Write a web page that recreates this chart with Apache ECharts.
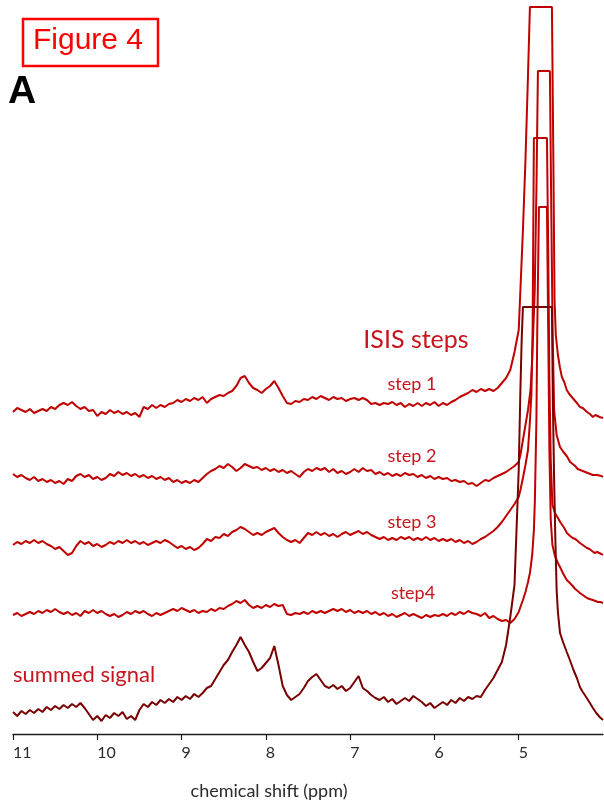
<!DOCTYPE html>
<html>
<head>
<meta charset="utf-8">
<script src="https://cdn.jsdelivr.net/npm/echarts@6/dist/echarts.min.js"></script>
<style>
  html, body { margin: 0; padding: 0; background: #fff; }
  #container { width: 604px; height: 801px; }
</style>
</head>
<body>
<div id="container"></div>
<script>
// chemical shift grid (ppm) for the baseline part of every trace, 11.00 -> 5.00
var ppmGrid = [
  11.00, 10.95, 10.90, 10.85, 10.80, 10.75, 10.70, 10.65, 10.60, 10.55,
  10.50, 10.45, 10.40, 10.35, 10.30, 10.25, 10.20, 10.15, 10.10, 10.05,
  10.00, 9.95, 9.90, 9.85, 9.80, 9.75, 9.70, 9.65, 9.60, 9.55,
  9.50, 9.45, 9.40, 9.35, 9.30, 9.25, 9.20, 9.15, 9.10, 9.05,
  9.00, 8.95, 8.90, 8.85, 8.80, 8.75, 8.70, 8.65, 8.60, 8.55,
  8.50, 8.45, 8.40, 8.35, 8.30, 8.25, 8.20, 8.15, 8.10, 8.05,
  8.00, 7.95, 7.90, 7.85, 7.80, 7.75, 7.70, 7.65, 7.60, 7.55,
  7.50, 7.45, 7.40, 7.35, 7.30, 7.25, 7.20, 7.15, 7.10, 7.05,
  7.00, 6.95, 6.90, 6.85, 6.80, 6.75, 6.70, 6.65, 6.60, 6.55,
  6.50, 6.45, 6.40, 6.35, 6.30, 6.25, 6.20, 6.15, 6.10, 6.05,
  6.00, 5.95, 5.90, 5.85, 5.80, 5.75, 5.70, 5.65, 5.60, 5.55,
  5.50, 5.45, 5.40, 5.35, 5.30, 5.25, 5.20, 5.15, 5.10, 5.05,
  5.00
];

// stacked intensities (a.u.) on ppmGrid
var step1 = [
  326, 330, 328, 326, 329, 325, 327, 329, 327, 331,
  329, 333, 335, 333, 336, 332, 329, 331, 327, 328,
  322, 326, 324, 328, 325, 327, 324, 326, 323, 325,
  321, 331, 329, 333, 330, 333, 331, 334, 335, 338,
  336, 339, 337, 340, 338, 341, 335, 339, 341, 343,
  342, 345, 347, 352, 360, 362, 355, 350, 348, 345,
  349, 352, 357, 350, 342, 335, 334, 337, 336, 339,
  338, 341, 339, 342, 340, 338, 341, 339, 340, 337,
  339, 340, 338, 340, 338, 334, 335, 333, 335, 334,
  336, 333, 335, 331, 334, 332, 335, 332, 335, 333,
  336, 332, 335, 333, 336, 338, 341, 343, 345, 348,
  346, 349, 347, 349, 347, 350, 355, 360, 368, 386,
  408
];
var step2 = [
  264, 261, 263, 260, 258, 261, 257, 259, 256, 258,
  255, 257, 254, 259, 257, 262, 264, 261, 263, 259,
  261, 258, 260, 264, 262, 266, 263, 265, 262, 264,
  261, 263, 260, 262, 259, 261, 258, 260, 256, 258,
  255, 257, 255, 258, 256, 260, 264, 267, 269, 272,
  270, 274, 271, 267, 270, 274, 272, 270, 271, 268,
  270, 267, 269, 266, 268, 265, 267, 264, 261, 266,
  269, 267, 270, 268, 270, 266, 269, 265, 267, 264,
  266, 269, 266, 270, 267, 268, 264, 266, 263, 265,
  262, 264, 262, 265, 263, 264, 261, 263, 260, 262,
  259, 261, 259, 260, 257, 258, 256, 257, 254, 255,
  252, 255, 258, 257, 260, 262, 264, 266, 269, 272,
  276
];
var step3 = [
  193, 196, 194, 197, 195, 198, 195, 197, 194, 192,
  189, 191, 187, 183, 185, 192, 197, 194, 196, 192,
  194, 191, 193, 196, 194, 197, 195, 198, 195, 197,
  194, 196, 193, 195, 197, 195, 198, 196, 193, 190,
  192, 189, 191, 188, 190, 194, 199, 197, 201, 200,
  204, 202, 206, 208, 211, 209, 206, 203, 205, 203,
  206, 208, 210, 205, 201, 198, 196, 198, 195, 200,
  205, 203, 206, 203, 205, 202, 204, 201, 204, 206,
  203, 205, 207, 204, 206, 203, 201, 199, 201, 198,
  200, 198, 201, 199, 201, 198, 200, 198, 201, 198,
  200, 197, 199, 197, 199, 196, 198, 195, 197, 194,
  196, 199, 201, 204, 207, 211, 216, 222, 228, 234,
  241
];
var step4 = [
  123, 125, 122, 124, 126, 124, 127, 125, 128, 126,
  129, 126, 124, 126, 123, 125, 122, 127, 125, 128,
  125, 127, 124, 122, 124, 121, 123, 126, 124, 127,
  125, 127, 124, 122, 125, 123, 125, 127, 129, 127,
  130, 128, 126, 128, 125, 127, 126, 129, 127, 130,
  129, 132, 134, 137, 135, 138, 133, 130, 132, 130,
  133, 131, 134, 132, 133, 124, 123, 125, 124, 126,
  124, 127, 125, 127, 125, 127, 129, 127, 129, 126,
  128, 125, 127, 125, 127, 124, 126, 123, 125, 122,
  124, 121, 123, 125, 122, 124, 122, 120, 123, 121,
  123, 122, 124, 122, 125, 123, 126, 124, 127, 125,
  124, 122, 125, 120, 122, 119, 117, 118, 115, 119,
  126
];
var summed = [
  26, 22, 27, 24, 28, 25, 29, 26, 31, 28,
  32, 29, 33, 30, 34, 31, 35, 30, 24, 18,
  22, 17, 23, 20, 25, 22, 26, 19, 22, 18,
  28, 34, 31, 36, 33, 38, 35, 39, 36, 41,
  38, 42, 39, 44, 41, 45, 50, 52, 59, 66,
  73, 78, 86, 93, 101, 93, 86, 76, 67, 70,
  75, 80, 92, 73, 52, 43, 38, 41, 44, 50,
  57, 61, 64, 58, 52, 50, 53, 49, 52, 47,
  50, 56, 62, 50, 47, 43, 40, 38, 41, 36,
  39, 34, 37, 40, 37, 42, 39, 36, 32, 35,
  30, 33, 36, 33, 38, 35, 40, 37, 41, 39,
  42, 41, 48, 54, 60, 68, 76, 93, 121, 153,
  268
];

// water peak (~4.75 ppm), clipped flat at the top: [ppm, intensity]
var peak1 = [[4.98, 448], [4.95, 508], [4.92, 578], [4.895, 648], [4.867, 731], [4.606, 731],
  [4.59, 588], [4.575, 438], [4.56, 403], [4.535, 383], [4.51, 370], [4.488, 361], [4.46, 356],
  [4.43, 348], [4.40, 344], [4.37, 341], [4.33, 337], [4.30, 334], [4.274, 331], [4.24, 330],
  [4.22, 328], [4.19, 326], [4.155, 324], [4.12, 321], [4.09, 323], [4.07, 322], [4.04, 321], [4.00, 320]];
var peak2 = [[4.98, 283], [4.95, 298], [4.92, 313], [4.89, 328], [4.86, 348], [4.84, 378], [4.81, 448],
  [4.79, 548], [4.772, 667], [4.63, 667], [4.615, 538], [4.598, 408], [4.58, 328], [4.55, 303],
  [4.51, 291], [4.47, 286], [4.43, 282], [4.39, 276], [4.36, 274], [4.33, 272], [4.30, 269],
  [4.27, 268], [4.24, 267], [4.21, 266], [4.18, 265], [4.15, 264], [4.12, 263], [4.10, 262],
  [4.07, 263], [4.05, 263], [4.02, 262], [4.00, 261]];
var peak3 = [[4.98, 248], [4.95, 260], [4.92, 273], [4.89, 288], [4.87, 313], [4.85, 343], [4.835, 408],
  [4.82, 600], [4.665, 600], [4.65, 488], [4.636, 358], [4.62, 278], [4.60, 233], [4.57, 225],
  [4.535, 220], [4.50, 215], [4.46, 210], [4.428, 205], [4.39, 202], [4.36, 200], [4.33, 199],
  [4.30, 197], [4.274, 195], [4.24, 193], [4.22, 192], [4.19, 190], [4.16, 189], [4.13, 187],
  [4.10, 185], [4.07, 186], [4.05, 186], [4.02, 184], [4.00, 183]];
var peak4 = [[4.98, 131], [4.95, 138], [4.92, 146], [4.89, 156], [4.867, 165], [4.84, 183], [4.82, 208],
  [4.808, 238], [4.79, 318], [4.78, 408], [4.76, 531], [4.665, 531], [4.65, 408], [4.636, 288],
  [4.62, 218], [4.60, 193], [4.57, 182], [4.535, 175], [4.51, 171], [4.47, 164], [4.43, 158],
  [4.393, 155], [4.36, 152], [4.33, 149], [4.30, 147], [4.274, 145], [4.24, 143], [4.22, 142],
  [4.19, 140], [4.16, 139], [4.12, 138], [4.09, 137], [4.06, 136], [4.03, 136], [4.00, 135]];
var peakSum = [[4.98, 348], [4.965, 398], [4.95, 431], [4.606, 431], [4.595, 338], [4.58, 258],
  [4.565, 198], [4.55, 148], [4.535, 126], [4.51, 105], [4.47, 95], [4.43, 86], [4.393, 78],
  [4.35, 68], [4.31, 60], [4.274, 51], [4.24, 46], [4.20, 41], [4.155, 35], [4.12, 30],
  [4.08, 25], [4.04, 21], [4.00, 18]];

var tickValues = [11, 10, 9, 8, 7, 6, 5];

var redLine = '#c00000';
var darkLine = '#780000';
var labelRed = '#c8151d';
var calibri = 'Lato, "Open Sans", sans-serif';

function trace(values, peak) {
  var pts = ppmGrid.map(function (p, i) { return [p, values[i]]; });
  return pts.concat(peak);
}

function spectrum(name, values, peak, color) {
  return {
    name: name,
    type: 'line',
    data: trace(values, peak),
    showSymbol: false,
    symbol: 'none',
    silent: true,
    lineStyle: { color: color, width: 2 },
    z: 2
  };
}

var dom = document.getElementById('container');
var myChart = echarts.init(dom, null, { renderer: 'canvas' });

var option = {
  animation: false,
  backgroundColor: '#fff',
  grid: {
    left: 13,
    right: 1,
    top: 0,
    bottom: 67,
    containLabel: false,
    outerBoundsMode: 'none'
  },
  xAxis: {
    type: 'value',
    inverse: true,
    min: 4,
    max: 11,
    axisLine: { show: true, lineStyle: { color: '#1e1e1e', width: 1.4 } },
    axisTick: { show: true, length: 6, customValues: tickValues, lineStyle: { color: '#1e1e1e', width: 1.2 } },
    axisLabel: {
      customValues: tickValues,
      margin: 11,
      align: 'left',
      color: '#2a2a2a',
      fontSize: 16,
      fontFamily: calibri
    },
    splitLine: { show: false }
  },
  yAxis: {
    type: 'value',
    min: 4,
    max: 738,
    show: false,
    splitLine: { show: false }
  },
  series: [
    spectrum('step 1', step1, peak1, redLine),
    spectrum('step 2', step2, peak2, redLine),
    spectrum('step 3', step3, peak3, redLine),
    spectrum('step4', step4, peak4, redLine),
    spectrum('summed signal', summed, peakSum, darkLine)
  ],
  graphic: [
    {
      type: 'rect',
      shape: { x: 23, y: 19, width: 135, height: 47 },
      style: { fill: 'none', stroke: '#ff0000', lineWidth: 2.5 }
    },
    {
      type: 'text', x: 88, y: 41,
      style: { text: 'Figure 4', fill: '#ff0000', font: '30px "Liberation Sans", Arial, sans-serif',
        textAlign: 'center', textVerticalAlign: 'middle' }
    },
    {
      type: 'text', x: 8, y: 92,
      style: { text: 'A', fill: '#000', font: 'bold 39px "Liberation Sans", Arial, sans-serif',
        textAlign: 'left', textVerticalAlign: 'middle' }
    },
    {
      type: 'text', x: 416, y: 340,
      style: { text: 'ISIS steps', fill: labelRed, font: '25px ' + calibri,
        textAlign: 'center', textVerticalAlign: 'middle' }
    },
    {
      type: 'text', x: 412, y: 384,
      style: { text: 'step 1', fill: labelRed, font: '18px ' + calibri,
        textAlign: 'center', textVerticalAlign: 'middle' }
    },
    {
      type: 'text', x: 412, y: 456,
      style: { text: 'step 2', fill: labelRed, font: '18px ' + calibri,
        textAlign: 'center', textVerticalAlign: 'middle' }
    },
    {
      type: 'text', x: 412, y: 522,
      style: { text: 'step 3', fill: labelRed, font: '18px ' + calibri,
        textAlign: 'center', textVerticalAlign: 'middle' }
    },
    {
      type: 'text', x: 413, y: 593,
      style: { text: 'step4', fill: labelRed, font: '18px ' + calibri,
        textAlign: 'center', textVerticalAlign: 'middle' }
    },
    {
      type: 'text', x: 13, y: 675,
      style: { text: 'summed signal', fill: labelRed, font: '22px ' + calibri,
        textAlign: 'left', textVerticalAlign: 'middle' }
    },
    {
      type: 'text', x: 269, y: 791,
      style: { text: 'chemical shift (ppm)', fill: '#2a2a2a', font: '18px ' + calibri,
        textAlign: 'center', textVerticalAlign: 'middle' }
    }
  ]
};

if (option && typeof option === 'object') {
  myChart.setOption(option, true);
}
</script>
</body>
</html>
